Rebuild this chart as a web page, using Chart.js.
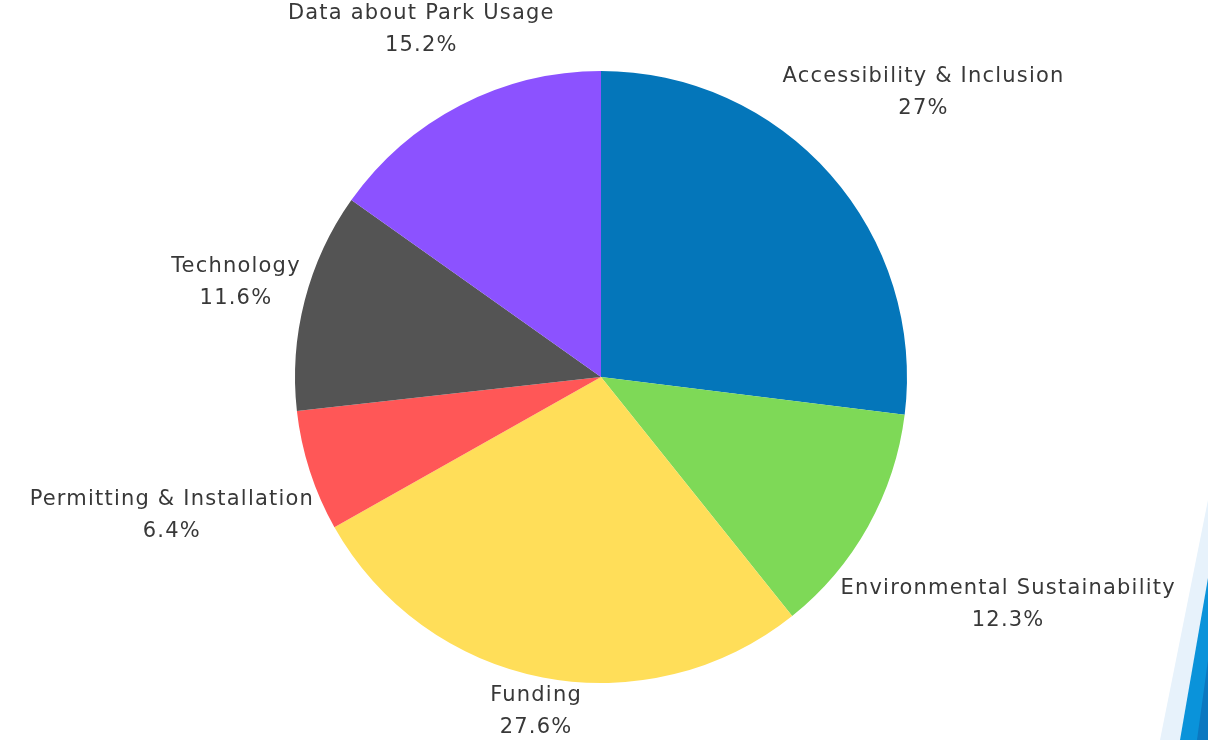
<!DOCTYPE html>
<html>
<head>
<meta charset="utf-8">
<script src="https://cdn.jsdelivr.net/npm/chart.js@4"></script>
<style>
    html, body { margin: 0; padding: 0; background: #ffffff; }
    .wrap { position: relative; width: 1208px; height: 740px; overflow: hidden; }
    .deco { position: absolute; left: 0; top: 0; width: 1208px; height: 740px; }
    .deco-light { background: #e7f2fb; clip-path: polygon(1208px 500px, 1208px 740px, 1160px 740px); }
    .deco-blue { background: #0a93da; clip-path: polygon(1208px 578px, 1208px 740px, 1180px 740px); }
    .deco-dark { background: #0b78c0; clip-path: polygon(1208px 660px, 1208px 740px, 1197px 740px); }
    canvas { position: absolute; left: 0; top: 0; }
</style>
</head>
<body>
<div class="wrap">
    <div class="deco deco-light"></div>
    <div class="deco deco-blue"></div>
    <div class="deco deco-dark"></div>
    <canvas id="pieChart" width="1208" height="740"></canvas>
</div>
<script>
// Slice data, clockwise from 12 o'clock
const categories = [
    'Accessibility & Inclusion',
    'Environmental Sustainability',
    'Funding',
    'Permitting & Installation',
    'Technology',
    'Data about Park Usage'
];
const shares = [27, 12.3, 27.6, 6.4, 11.6, 15.2];
const sliceColors = ['#0476ba', '#7ed957', '#ffde59', '#ff5757', '#545454', '#8c52ff'];

const labelFont = '21px "DejaVu Sans", sans-serif';
const labelColor = '#383838';

// Draws "name / value%" outside each slice, pushed out so the text box
// just clears the rim along the slice's middle angle
const outsideLabels = {
    id: 'outsideLabels',
    afterDatasetsDraw(chart) {
        const ctx = chart.ctx;
        const meta = chart.getDatasetMeta(0);
        const gap = 2;
        const lineGap = 32;
        ctx.save();
        ctx.font = labelFont;
        ctx.letterSpacing = '1.2px';
        ctx.fillStyle = labelColor;
        ctx.textAlign = 'center';
        ctx.textBaseline = 'middle';
        meta.data.forEach((arc, i) => {
            const p = arc.getProps(['x', 'y', 'startAngle', 'endAngle', 'outerRadius'], true);
            const mid = (p.startAngle + p.endAngle) / 2;
            const dx = Math.cos(mid);
            const dy = Math.sin(mid);
            const line1 = chart.data.labels[i];
            const line2 = chart.data.datasets[0].data[i] + '%';
            const hw = Math.max(ctx.measureText(line1).width, ctx.measureText(line2).width) / 2;
            const hh = (lineGap + 18) / 2;
            const dist = p.outerRadius + gap + Math.abs(dx) * hw + Math.abs(dy) * hh;
            const cx = p.x + dx * dist;
            const cy = p.y + dy * dist;
            ctx.fillText(line1, cx, cy - lineGap / 2);
            ctx.fillText(line2, cx, cy + lineGap / 2);
        });
        ctx.restore();
    }
};

new Chart(document.getElementById('pieChart'), {
    type: 'pie',
    data: {
        labels: categories,
        datasets: [{
            data: shares,
            backgroundColor: sliceColors,
            borderWidth: 0
        }]
    },
    options: {
        responsive: false,
        animation: false,
        layout: {
            padding: { top: 71, bottom: 57, left: 0, right: 6 }
        },
        plugins: {
            legend: { display: false },
            tooltip: { enabled: false }
        }
    },
    plugins: [outsideLabels]
});
</script>
</body>
</html>
